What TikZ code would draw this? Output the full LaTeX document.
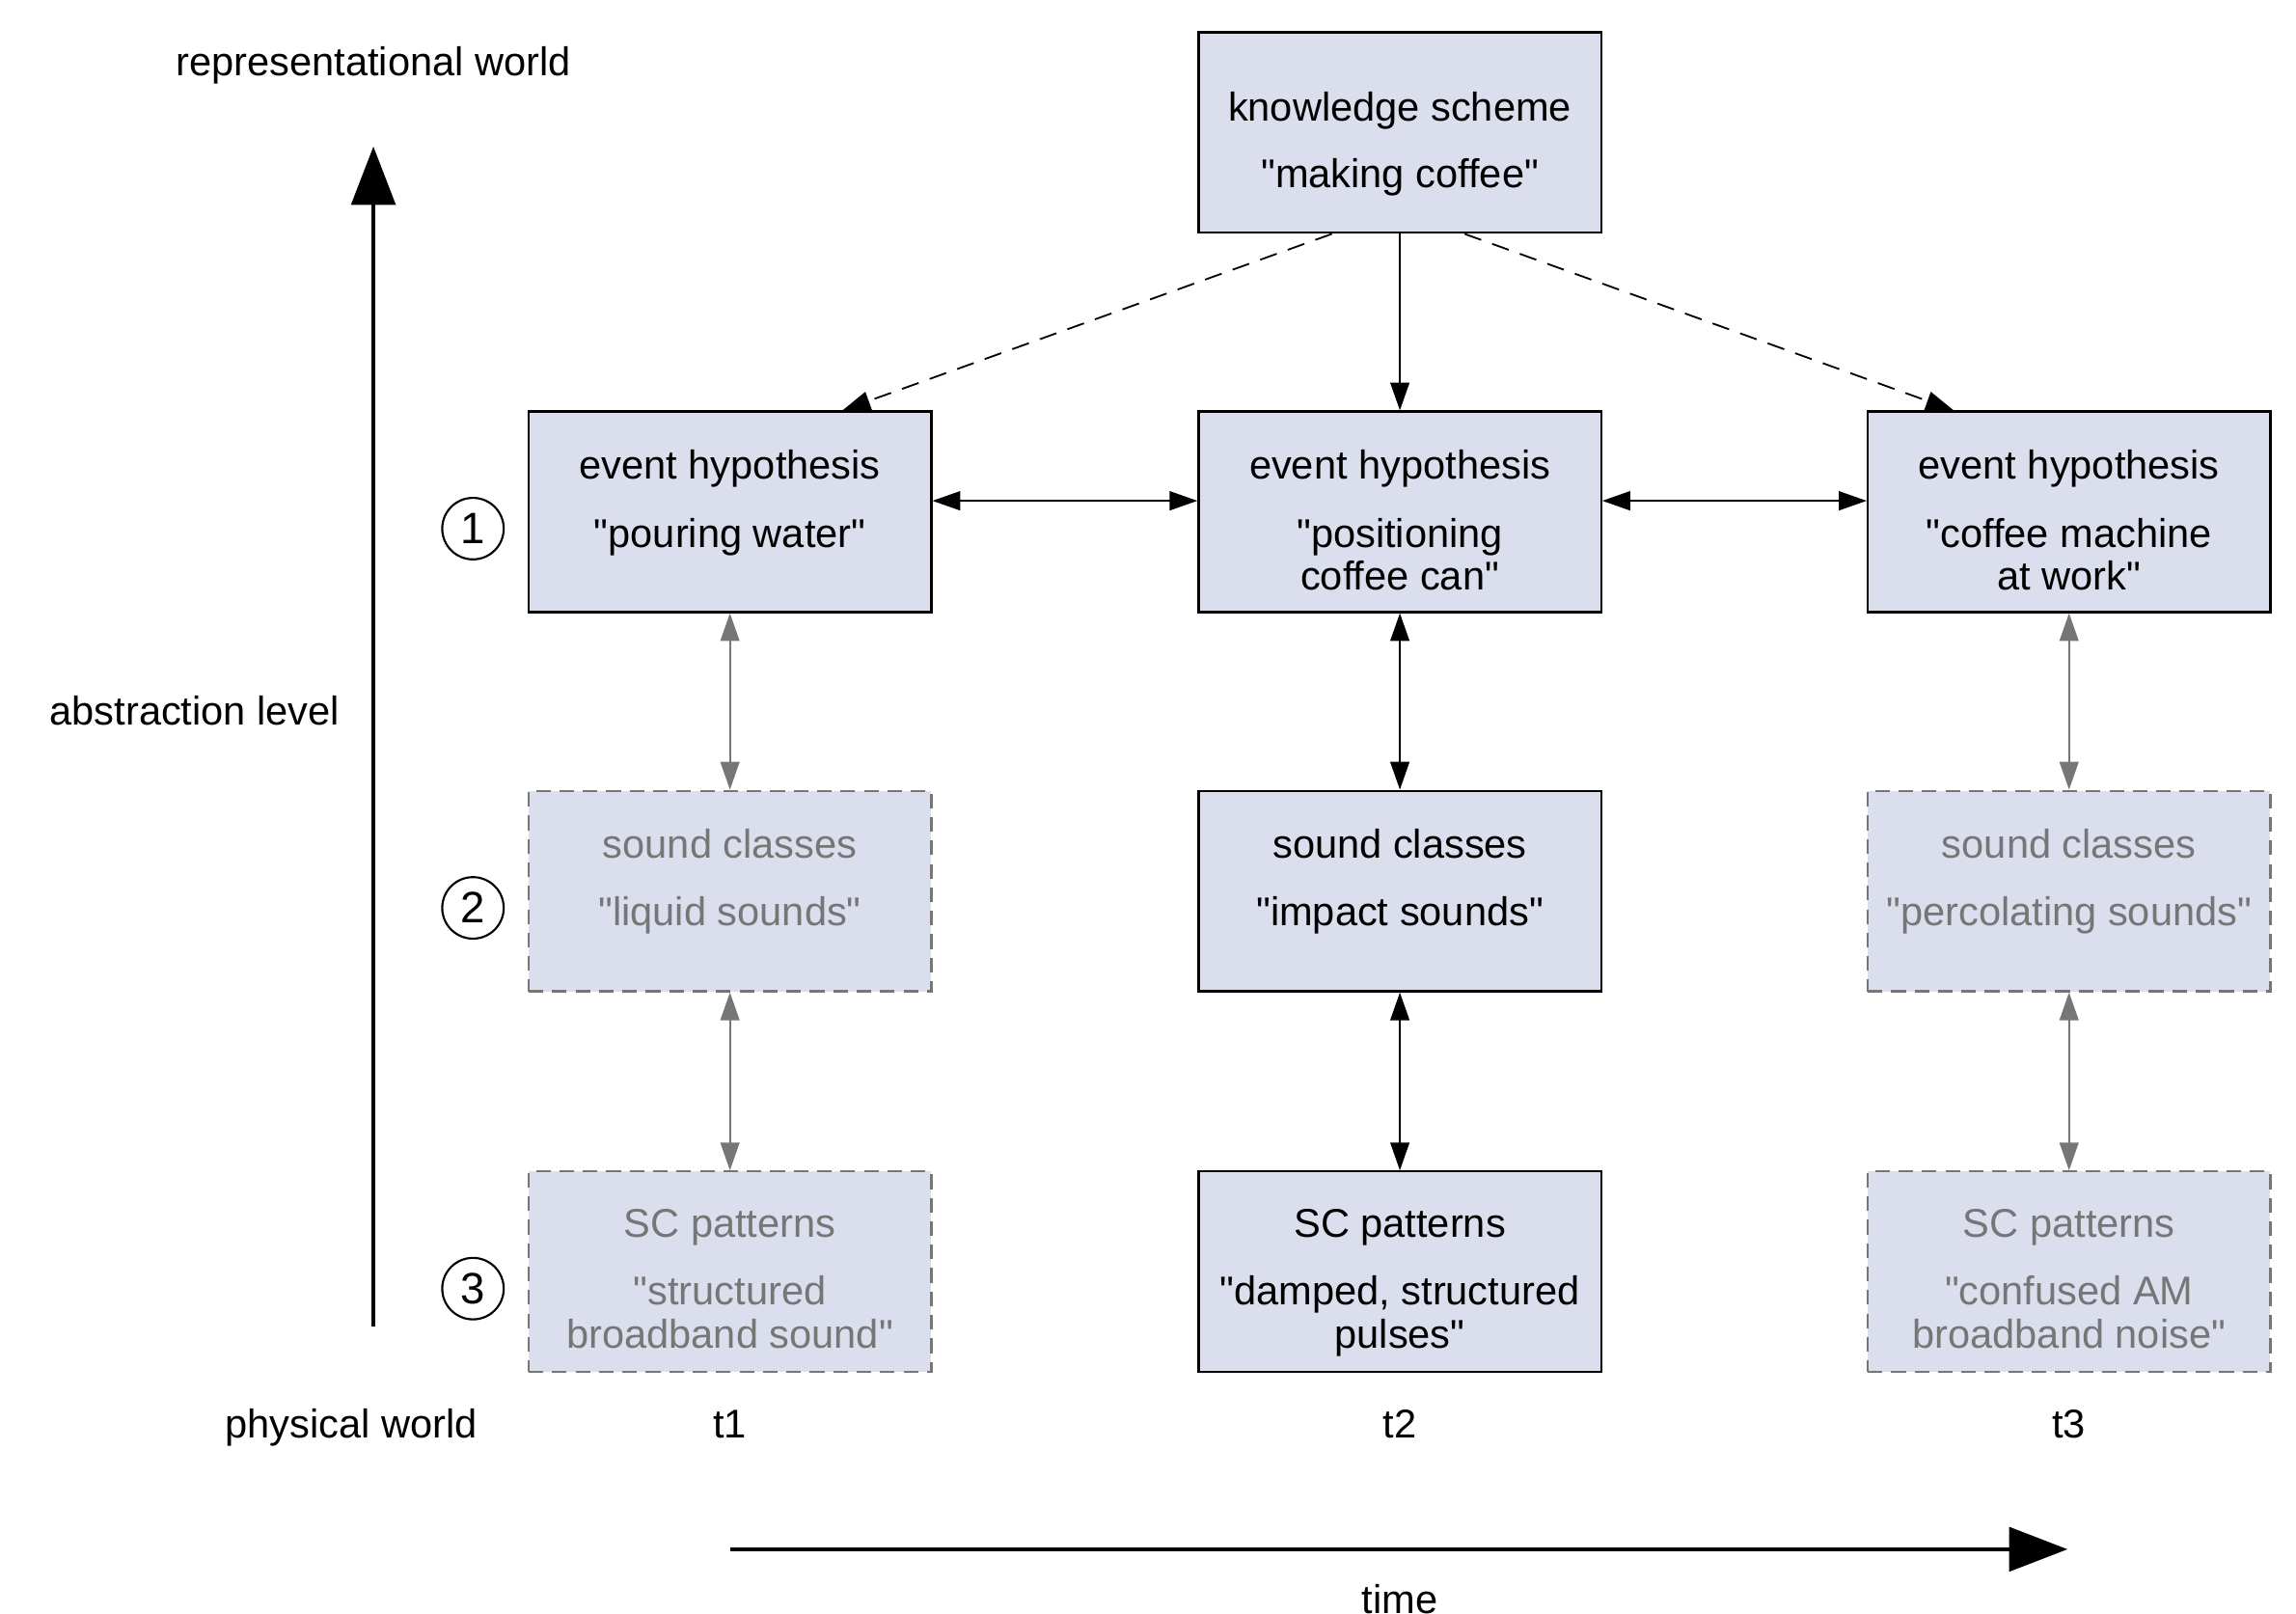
\documentclass[tikz,border=0pt]{standalone}
\usepackage{fontspec}
\setmainfont{Liberation Sans}[Ligatures=TeXOff]
\usetikzlibrary{arrows.meta,calc}
\definecolor{boxfill}{RGB}{219,223,237}
\definecolor{ghost}{RGB}{118,118,118}
\tikzset{
  box/.style={draw=black, fill=boxfill, line width=0.75pt, rectangle, minimum width=137.5pt, minimum height=68.5pt, inner sep=0pt},
  ghostbox/.style={box, draw=ghost, dash pattern=on 5pt off 3pt},
  txt/.style={font=\fontsize{13.7}{16}\selectfont, anchor=base, inner sep=0pt},
  gtxt/.style={txt, text=ghost},
  num/.style={circle, draw=black, line width=0.7pt, minimum size=21pt, inner sep=0pt, font=\fontsize{15}{16}\selectfont},
  conn/.style={line width=0.6pt, -{Triangle[length=9.5pt,width=6.5pt]}},
  bconn/.style={line width=0.6pt, {Triangle[length=9.5pt,width=6.5pt]}-{Triangle[length=9.5pt,width=6.5pt]}},
  gconn/.style={bconn, draw=ghost, fill=ghost},
  dconn/.style={conn, dash pattern=on 6pt off 4pt},
  big/.style={line width=1.5pt, -{Triangle[length=20pt,width=15pt]}}
}
\begin{document}
\begin{tikzpicture}[x=0.5pt, y=-0.5pt]
\useasboundingbox (0,0) rectangle (1568,1102);
% boxes
\node[box] (ks) at (956,90.5) {};
\node[box] (eh1) at (498.5,349.5) {};
\node[box] (eh2) at (956,349.5) {};
\node[box] (eh3) at (1413,349.5) {};
\node[ghostbox] (sc1) at (498.5,608.5) {};
\node[box] (sc2) at (956,608.5) {};
\node[ghostbox] (sc3) at (1413,608.5) {};
\node[ghostbox] (sp1) at (498.5,868.5) {};
\node[box] (sp2) at (956,868.5) {};
\node[ghostbox] (sp3) at (1413,868.5) {};
% texts
\node[txt] (ksa) at (956,83) {knowledge scheme};
\node[txt] (ksb) at (956,128) {"making coffee"};
\node[txt] (eh1a) at (498.5,327) {event hypothesis};
\node[txt] (eh1b) at (498.5,374) {"pouring water"};
\node[txt] (eh2a) at (956,327) {event hypothesis};
\node[txt] (eh2b) at (956,374) {"positioning};
\node[txt] (eh2c) at (956,403) {coffee can"};
\node[txt] (eh3a) at (1413,327) {event hypothesis};
\node[txt] (eh3b) at (1413,374) {"coffee machine};
\node[txt] (eh3c) at (1413,403) {at work"};
\node[gtxt] (sc1a) at (498.5,586) {sound classes};
\node[gtxt] (sc1b) at (498.5,632) {"liquid sounds"};
\node[txt] (sc2a) at (956,586) {sound classes};
\node[txt] (sc2b) at (956,632) {"impact sounds"};
\node[gtxt] (sc3a) at (1413,586) {sound classes};
\node[gtxt] (sc3b) at (1413,632) {"percolating sounds"};
\node[gtxt] (sp1a) at (498.5,845) {SC patterns};
\node[gtxt] (sp1b) at (498.5,891) {"structured};
\node[gtxt] (sp1c) at (498.5,921) {broadband sound"};
\node[txt] (sp2a) at (956,845) {SC patterns};
\node[txt] (sp2b) at (956,891) {"damped, structured};
\node[txt] (sp2c) at (956,921) {pulses"};
\node[gtxt] (sp3a) at (1413,845) {SC patterns};
\node[gtxt] (sp3b) at (1413,891) {"confused AM};
\node[gtxt] (sp3c) at (1413,921) {broadband noise"};
% side labels
\node[txt] (rw) at (255,52) {representational world};
\node[txt] (al) at (133,495) {abstraction level};
\node[txt] (pw) at (240,982) {physical world};
\node[txt] (t1) at (498.5,982) {t1};
\node[txt] (t2) at (956,982) {t2};
\node[txt] (t3) at (1413,982) {t3};
\node[txt] (tm) at (956,1102) {time};
% circled numbers
\node[num] (n1) at (323,361) {1};
\node[num] (n2) at (323,620) {2};
\node[num] (n3) at (323,880) {3};
% axes
\coordinate (aBot) at (255,906);
\coordinate (aTop) at (255,100);
\draw[big] (aBot) -- (aTop);
\coordinate (tL) at (499,1058);
\coordinate (tR) at (1412,1058);
\draw[big] (tL) -- (tR);
% connectors
\draw[conn] (ks.south) -- (eh2.north);
\draw[dconn] ($(ks.south west)!0.332!(ks.south east)$) -- ($(eh1.north west)!0.778!(eh1.north east)$);
\draw[dconn] ($(ks.south west)!0.66!(ks.south east)$) -- ($(eh3.north west)!0.215!(eh3.north east)$);
\draw[bconn] ($(eh1.east)+(0,-7.5)$) -- ($(eh2.west)+(0,-7.5)$);
\draw[bconn] ($(eh2.east)+(0,-7.5)$) -- ($(eh3.west)+(0,-7.5)$);
\draw[gconn] (eh1.south) -- (sc1.north);
\draw[gconn] (sc1.south) -- (sp1.north);
\draw[bconn] (eh2.south) -- (sc2.north);
\draw[bconn] (sc2.south) -- (sp2.north);
\draw[gconn] (eh3.south) -- (sc3.north);
\draw[gconn] (sc3.south) -- (sp3.north);
\end{tikzpicture}
\end{document}
